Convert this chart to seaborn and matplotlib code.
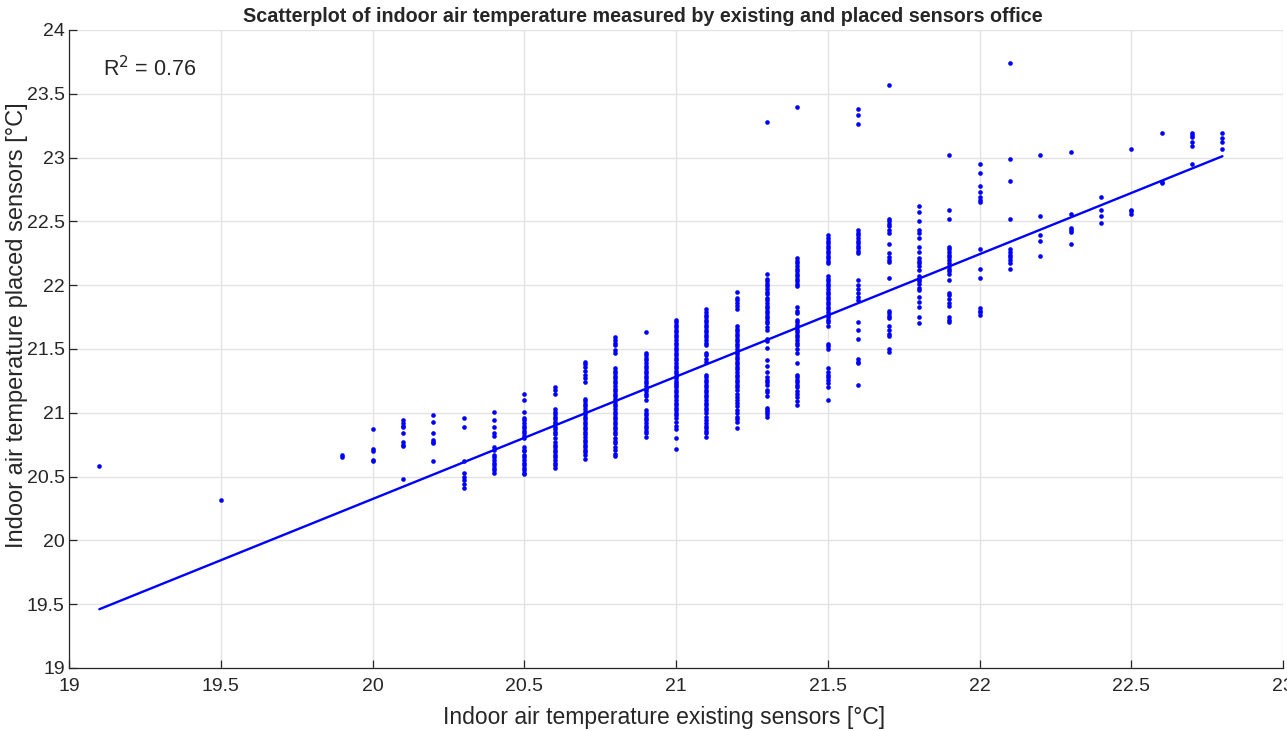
import numpy as np
import pandas as pd
import matplotlib
matplotlib.use('Agg')
import matplotlib.pyplot as plt
import seaborn as sns

# measured values, one list per existing-sensor reading (x), values = placed sensor readings (y)
x_levels = [19.1, 19.5, 19.9, 20.0, 20.1, 20.2, 20.3, 20.4, 20.5, 20.6, 20.7, 20.8, 20.9,
            21.0, 21.1, 21.2, 21.3, 21.4, 21.5, 21.6, 21.7, 21.8, 21.9, 22.0, 22.1, 22.2,
            22.3, 22.4, 22.5, 22.6, 22.7, 22.8]

y_191 = [20.58]
y_195 = [20.32]
y_199 = [20.67, 20.65]
y_200 = [20.87, 20.72, 20.70, 20.63, 20.62]
y_201 = [20.94, 20.92, 20.90, 20.89, 20.84, 20.77, 20.75, 20.74, 20.48]
y_202 = [20.98, 20.93, 20.84, 20.79, 20.77, 20.76, 20.62]
y_203 = [20.96, 20.89, 20.62, 20.53, 20.50, 20.47, 20.44, 20.41]
y_204 = [21.01, 20.94, 20.89, 20.84, 20.82, 20.73, 20.71, 20.67, 20.65, 20.63, 20.61,
         20.59, 20.57, 20.55, 20.53]
y_205 = [21.15, 21.10, 21.01, 20.96, 20.94, 20.92, 20.90, 20.88, 20.86, 20.84, 20.82,
         20.80, 20.73, 20.71, 20.70, 20.67, 20.65, 20.63, 20.61, 20.59, 20.57, 20.55,
         20.53, 20.52]
y_206 = [21.20, 21.18, 21.15, 21.03, 21.01, 20.99, 20.97, 20.95, 20.93, 20.91, 20.89,
         20.87, 20.85, 20.83, 20.80, 20.77, 20.75, 20.73, 20.71, 20.69, 20.67, 20.65,
         20.63, 20.61, 20.59, 20.57]
y_207 = [21.40, 21.38, 21.36, 21.33, 21.30, 21.27, 21.24, 21.11, 21.09, 21.07, 21.05,
         21.03, 21.01, 20.99, 20.97, 20.95, 20.93, 20.91, 20.89, 20.87, 20.85, 20.83,
         20.81, 20.79, 20.77, 20.75, 20.73, 20.71, 20.69, 20.67, 20.64]
y_208 = [21.59, 21.57, 21.55, 21.53, 21.49, 21.47, 21.35, 21.33, 21.31, 21.29, 21.27,
         21.25, 21.23, 21.21, 21.19, 21.17, 21.15, 21.13, 21.11, 21.09, 21.07, 21.05,
         21.03, 21.01, 20.99, 20.97, 20.95, 20.93, 20.91, 20.89, 20.87, 20.85, 20.83,
         20.80, 20.78, 20.76, 20.73, 20.71, 20.68, 20.66]
y_209 = [21.63, 21.47, 21.45, 21.43, 21.41, 21.39, 21.37, 21.35, 21.33, 21.31, 21.29,
         21.27, 21.25, 21.23, 21.21, 21.19, 21.17, 21.15, 21.13, 21.10, 21.02, 21.00,
         20.98, 20.96, 20.94, 20.92, 20.90, 20.88, 20.86, 20.84, 20.81]
y_210 = [21.73, 21.71, 21.69, 21.67, 21.65, 21.63, 21.61, 21.59, 21.57, 21.55, 21.53,
         21.51, 21.49, 21.47, 21.45, 21.43, 21.41, 21.39, 21.37, 21.35, 21.33, 21.31,
         21.29, 21.27, 21.25, 21.23, 21.22, 21.20, 21.18, 21.16, 21.14, 21.12, 21.10,
         21.08, 21.06, 21.04, 21.02, 21.00, 20.98, 20.96, 20.93, 20.90, 20.87, 20.80,
         20.72]
y_211 = [21.81, 21.79, 21.77, 21.75, 21.73, 21.71, 21.69, 21.67, 21.65, 21.63, 21.61,
         21.59, 21.57, 21.55, 21.53, 21.47, 21.45, 21.42, 21.40, 21.30, 21.28, 21.26,
         21.24, 21.22, 21.20, 21.18, 21.16, 21.14, 21.12, 21.10, 21.08, 21.06, 21.04,
         21.02, 21.00, 20.97, 20.94, 20.92, 20.90, 20.88, 20.86, 20.84, 20.81]
y_212 = [21.95, 21.90, 21.88, 21.86, 21.84, 21.81, 21.68, 21.66, 21.64, 21.62, 21.60,
         21.58, 21.56, 21.54, 21.52, 21.50, 21.48, 21.46, 21.44, 21.42, 21.40, 21.38,
         21.36, 21.34, 21.32, 21.30, 21.28, 21.26, 21.24, 21.22, 21.20, 21.18, 21.15,
         21.12, 21.10, 21.08, 21.05, 21.02, 21.00, 20.97, 20.95, 20.93, 20.88]
y_213 = [23.28, 22.09, 22.05, 22.03, 22.01, 21.99, 21.97, 21.95, 21.93, 21.90, 21.88,
         21.86, 21.84, 21.82, 21.80, 21.78, 21.76, 21.74, 21.72, 21.70, 21.67, 21.65,
         21.58, 21.56, 21.51, 21.41, 21.37, 21.32, 21.28, 21.26, 21.24, 21.22, 21.18,
         21.16, 21.13, 21.04, 21.02, 21.01, 20.99, 20.97]
y_214 = [23.40, 22.21, 22.19, 22.17, 22.15, 22.13, 22.11, 22.09, 22.07, 22.05, 22.03,
         22.01, 21.99, 21.83, 21.80, 21.78, 21.73, 21.71, 21.69, 21.67, 21.65, 21.63,
         21.61, 21.59, 21.57, 21.55, 21.53, 21.50, 21.47, 21.39, 21.30, 21.28, 21.26,
         21.24, 21.22, 21.20, 21.17, 21.15, 21.12, 21.09, 21.06]
y_215 = [22.39, 22.37, 22.35, 22.33, 22.31, 22.29, 22.27, 22.25, 22.23, 22.21, 22.19,
         22.17, 22.07, 22.05, 22.03, 22.01, 21.99, 21.97, 21.95, 21.93, 21.91, 21.89,
         21.87, 21.85, 21.83, 21.81, 21.79, 21.77, 21.75, 21.73, 21.71, 21.68, 21.54,
         21.52, 21.50, 21.35, 21.32, 21.30, 21.28, 21.26, 21.23, 21.20, 21.10]
y_216 = [23.38, 23.33, 23.26, 22.43, 22.41, 22.39, 22.37, 22.35, 22.33, 22.31, 22.29,
         22.27, 22.25, 22.04, 22.00, 21.97, 21.94, 21.91, 21.88, 21.71, 21.65, 21.58,
         21.42, 21.40, 21.39, 21.22]
y_217 = [23.57, 22.52, 22.50, 22.48, 22.46, 22.43, 22.41, 22.32, 22.25, 22.22, 22.20,
         22.18, 22.06, 21.80, 21.78, 21.76, 21.74, 21.68, 21.65, 21.62, 21.60, 21.50,
         21.48]
y_218 = [22.62, 22.57, 22.50, 22.43, 22.41, 22.37, 22.30, 22.26, 22.21, 22.19, 22.17,
         22.15, 22.12, 22.07, 22.05, 22.03, 22.01, 21.98, 21.96, 21.91, 21.87, 21.83,
         21.75, 21.70]
y_219 = [23.02, 22.59, 22.52, 22.30, 22.28, 22.26, 22.24, 22.22, 22.20, 22.17, 22.15,
         22.13, 22.11, 22.09, 22.04, 21.94, 21.92, 21.89, 21.86, 21.84, 21.75, 21.73,
         21.71]
y_220 = [22.95, 22.88, 22.78, 22.73, 22.69, 22.67, 22.65, 22.28, 22.13, 22.06, 21.82,
         21.80, 21.79, 21.77]
y_221 = [23.74, 22.99, 22.82, 22.52, 22.28, 22.26, 22.24, 22.22, 22.20, 22.17, 22.13]
y_222 = [23.02, 22.54, 22.39, 22.35, 22.23]
y_223 = [23.04, 22.56, 22.45, 22.43, 22.42, 22.32]
y_224 = [22.69, 22.59, 22.54, 22.49]
y_225 = [23.07, 22.59, 22.58, 22.56]
y_226 = [23.19, 22.81, 22.80]
y_227 = [23.19, 23.18, 23.16, 23.12, 23.09, 22.95]
y_228 = [23.19, 23.15, 23.12, 23.07]

# linear fit
fit_slope = 0.9595
fit_intercept = 1.134
r_squared = 0.76

columns = [y_191, y_195, y_199, y_200, y_201, y_202, y_203, y_204, y_205, y_206, y_207,
           y_208, y_209, y_210, y_211, y_212, y_213, y_214, y_215, y_216, y_217, y_218,
           y_219, y_220, y_221, y_222, y_223, y_224, y_225, y_226, y_227, y_228]

rows = []
for xv, ys in zip(x_levels, columns):
    for yv in ys:
        rows.append((xv, yv))
df = pd.DataFrame(rows, columns=['existing', 'placed'])

fit_x = np.array([min(x_levels), max(x_levels)])
fit_df = pd.DataFrame({'existing': fit_x, 'placed': fit_slope * fit_x + fit_intercept})

sns.set_style('white')
plt.rcParams['font.family'] = ['Liberation Sans', 'DejaVu Sans']

fig = plt.figure(figsize=(12.87, 7.31), dpi=100)
ax = fig.add_axes([0.0536, 0.0862, 0.9434, 0.8728])

sns.scatterplot(data=df, x='existing', y='placed', color='#0000ff', s=11,
                linewidth=0, ax=ax, zorder=3)
sns.lineplot(data=fit_df, x='existing', y='placed', color='#0000ff', linewidth=1.7,
             ax=ax, zorder=4)

ax.set_xlim(19, 23)
ax.set_ylim(19, 24)
ax.set_xticks(np.arange(19, 23.01, 0.5))
ax.set_yticks(np.arange(19, 24.01, 0.5))
ax.set_xticklabels(['19', '19.5', '20', '20.5', '21', '21.5', '22', '22.5', '23'])
ax.set_yticklabels(['19', '19.5', '20', '20.5', '21', '21.5', '22', '22.5', '23', '23.5', '24'])
ax.grid(True, color='#e3e3e3', linewidth=1)
ax.set_axisbelow(True)
for side in ['top', 'right']:
    ax.spines[side].set_visible(False)
for side in ['left', 'bottom']:
    ax.spines[side].set_color('#262626')
    ax.spines[side].set_linewidth(0.9)
ax.tick_params(direction='in', length=6, width=0.9, colors='#262626', labelsize=14,
               left=True, bottom=True)
ax.tick_params(axis='y', pad=3)
ax.tick_params(axis='x', pad=7)

ax.set_xlabel('Indoor air temperature existing sensors [°C]', fontsize=16.5, color='#262626')
ax.set_ylabel('Indoor air temperature placed sensors [°C]', fontsize=17, color='#262626')
ax.xaxis.set_label_coords(0.49, -0.06)
ax.yaxis.set_label_coords(-0.034, 0.538)
ax.set_title('Scatterplot of indoor air temperature measured by existing and placed sensors office',
             fontsize=14.2, fontweight='bold', pad=6, x=0.473)
ax.text(0.028, 0.94, f'R$^2$ = {r_squared:.2f}', transform=ax.transAxes, fontsize=15.5,
        va='center', ha='left')

fig.savefig('out.png', dpi=100)
